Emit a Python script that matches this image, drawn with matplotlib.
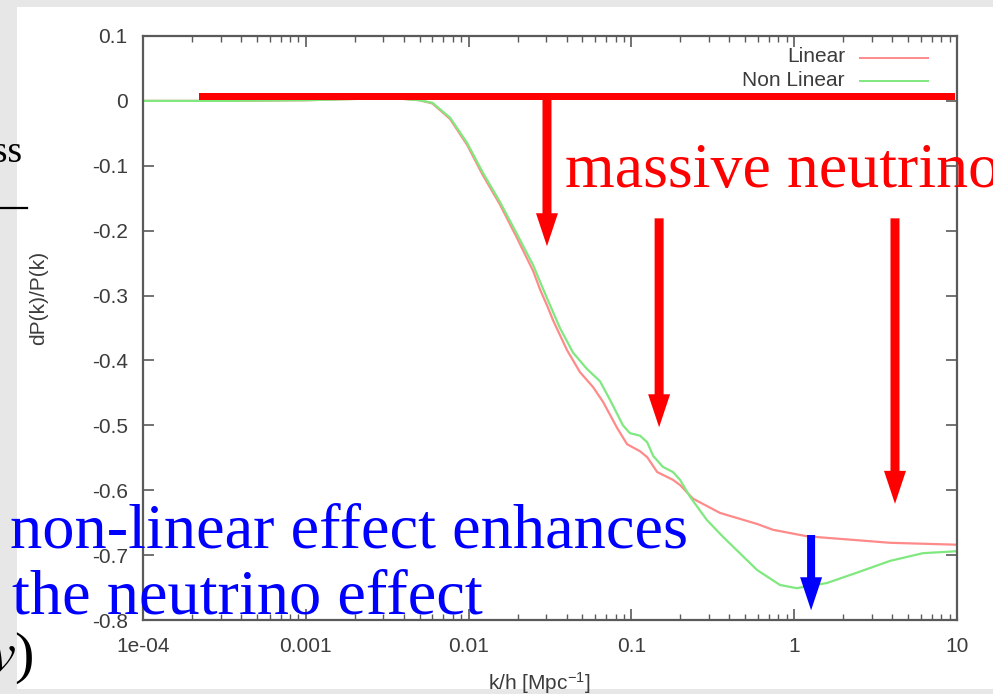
import matplotlib
matplotlib.use("Agg")
import matplotlib.pyplot as plt
from matplotlib.patches import Rectangle, Polygon
from matplotlib.lines import Line2D
from matplotlib.transforms import IdentityTransform
from matplotlib.ticker import LogLocator, NullFormatter, FixedLocator

plt.rcParams["font.family"] = ["Liberation Sans", "DejaVu Sans"]
plt.rcParams["mathtext.fontset"] = "stix"

W, H, DPI = 993, 694, 100

# Relative change of the matter power spectrum, dP(k)/P(k), versus k/h
k_linear = [1e-4, 3e-4, 1e-3, 2e-3, 3e-3, 4e-3, 5e-3, 6e-3, 7.7e-3, 9.8e-3,
            0.0122, 0.0156, 0.0198, 0.0249, 0.0275, 0.0303, 0.0330, 0.0402,
            0.0483, 0.0581, 0.0670, 0.0817, 0.0940, 0.113, 0.125, 0.144,
            0.180, 0.199, 0.239, 0.350, 0.592, 0.741, 1.20, 2.43, 3.87, 10.0]
dp_linear = [0.0, 0.0, 0.001, 0.003, 0.004, 0.003, 0.001, -0.004, -0.028, -0.068,
             -0.114, -0.160, -0.211, -0.262, -0.291, -0.315, -0.338, -0.384,
             -0.418, -0.441, -0.464, -0.504, -0.529, -0.540, -0.549, -0.572,
             -0.584, -0.592, -0.613, -0.635, -0.652, -0.661, -0.671, -0.677, -0.681, -0.684]

k_nonlinear = [1e-4, 3e-4, 1e-3, 2e-3, 3e-3, 4e-3, 5e-3, 6e-3, 7.7e-3, 9.8e-3,
               0.0122, 0.0156, 0.0198, 0.0249, 0.0275, 0.0303, 0.0364, 0.0438,
               0.0533, 0.0641, 0.0740, 0.0887, 0.0979, 0.113, 0.125, 0.136,
               0.156, 0.180, 0.199, 0.229, 0.291, 0.366, 0.592, 0.818, 1.035,
               1.59, 2.43, 3.87, 6.18, 10.0]
dp_nonlinear = [0.0, 0.0, 0.001, 0.003, 0.004, 0.003, 0.001, -0.003, -0.026, -0.065,
                -0.110, -0.156, -0.205, -0.253, -0.279, -0.304, -0.350, -0.388,
                -0.413, -0.432, -0.461, -0.500, -0.512, -0.516, -0.526, -0.547,
                -0.564, -0.572, -0.584, -0.610, -0.646, -0.672, -0.723, -0.746, -0.751,
                -0.743, -0.727, -0.709, -0.697, -0.694]

x_ticks = [1e-4, 1e-3, 1e-2, 1e-1, 1, 10]
x_tick_labels = ["1e-04", "0.001", "0.01", "0.1", "1", "10"]
y_ticks = [0.1, 0.0, -0.1, -0.2, -0.3, -0.4, -0.5, -0.6, -0.7, -0.8]
y_tick_labels = ["0.1", "0", "-0.1", "-0.2", "-0.3", "-0.4", "-0.5", "-0.6", "-0.7", "-0.8"]

# Overlay annotations (data units): the reference level bar and the arrows
bar_k = (2.2e-4, 9.7)
bar_level = 0.0068
red_arrows = [(0.0303, 0.0068, -0.224), (0.148, -0.181, -0.503), (4.16, -0.181, -0.621)]
blue_arrow = (1.27, -0.669, -0.785)

LINE_RED = "#ff8a8a"
LINE_GREEN = "#7fe87f"
AXIS_GRAY = "#5a5a5a"
TEXT_GRAY = "#3c3c3c"


def fx(px):
    return px / W


def fy(py):
    return 1 - py / H


fig = plt.figure(figsize=(W / DPI, H / DPI), dpi=DPI, facecolor="#e7e7e7")

# white slide panel holding the plot
fig.add_artist(Rectangle((fx(17), fy(689)), fx(993) - fx(17), fy(7) - fy(689),
                         transform=fig.transFigure, facecolor="white",
                         edgecolor="none", zorder=-5))

ax = fig.add_axes([fx(143), fy(620), fx(957) - fx(143), fy(36) - fy(620)])
ax.set_facecolor("white")
ax.set_xscale("log")
ax.set_xlim(1e-4, 10)
ax.set_ylim(-0.8, 0.1)

ax.plot(k_linear, dp_linear, color=LINE_RED, lw=1.6, solid_joinstyle="round")
ax.plot(k_nonlinear, dp_nonlinear, color=LINE_GREEN, lw=1.6, solid_joinstyle="round")

for s in ax.spines.values():
    s.set_color(AXIS_GRAY)
    s.set_linewidth(1.6)

ax.xaxis.set_major_locator(FixedLocator(x_ticks))
ax.set_xticklabels(x_tick_labels)
ax.xaxis.set_minor_locator(LogLocator(base=10, subs=range(2, 10), numticks=20))
ax.xaxis.set_minor_formatter(NullFormatter())
ax.set_yticks(y_ticks)
ax.set_yticklabels(y_tick_labels)
ax.tick_params(which="both", direction="in", top=True, right=True,
               color=AXIS_GRAY, labelcolor=TEXT_GRAY, labelsize=15)
ax.tick_params(which="major", length=8, width=1.2)
ax.tick_params(which="minor", length=4, width=1.0)
ax.tick_params(axis="y", pad=11)
ax.tick_params(axis="x", pad=12)

fig.text(fx(39), fy(298), "dP(k)/P(k)", rotation=90, ha="center", va="center",
         fontsize=15, color=TEXT_GRAY)
fig.text(fx(540), fy(683), r"k/h [Mpc$^{\mathregular{-1}}$]", ha="center", va="center",
         fontsize=15, color=TEXT_GRAY)

# legend, right aligned text with sample lines
for label, color, ypx in [("Linear", LINE_RED, 57), ("Non Linear", LINE_GREEN, 80)]:
    fig.text(fx(845), fy(ypx), label, ha="right", va="center", fontsize=15, color=TEXT_GRAY)
    fig.add_artist(Line2D([fx(860), fx(928)], [fy(ypx + 1)] * 2, color=color, lw=1.4,
                          transform=fig.transFigure))

# annotation overlay
to_px = ax.transData.transform
x0, yb = to_px((bar_k[0], bar_level))
x1, _ = to_px((bar_k[1], bar_level))
fig.add_artist(Rectangle((x0, yb - 3.8), x1 - x0, 7.6, transform=IdentityTransform(),
                         facecolor="#ff0000", edgecolor="none", zorder=6))


def arrow(k, y_start, y_tip, color, shaft_w=9.0, head_w=22.0, head_len=33.0):
    xs, ys = to_px((k, y_start))
    _, yt = to_px((k, y_tip))
    yh = yt + head_len
    pts = [(xs - shaft_w / 2, ys), (xs + shaft_w / 2, ys), (xs + shaft_w / 2, yh),
           (xs + head_w / 2, yh), (xs, yt), (xs - head_w / 2, yh), (xs - shaft_w / 2, yh)]
    fig.add_artist(Polygon(pts, closed=True, transform=IdentityTransform(),
                           facecolor=color, edgecolor="none", zorder=6))


for k, ys, yt in red_arrows:
    arrow(k, ys, yt, "#ff0000")
arrow(*blue_arrow, "#0000ff", shaft_w=8.0)

serif = ["Liberation Serif", "DejaVu Serif"]
fig.text(fx(565), fy(187), "massive neutrino", color="#ff0000", fontsize=46,
         family=serif, ha="left", va="baseline", zorder=7)
fig.text(fx(10), fy(548), "non-linear effect enhances", color="#0000ff", fontsize=46.3,
         family=serif, ha="left", va="baseline", zorder=7)
fig.text(fx(12), fy(613), "the neutrino effect", color="#0000ff", fontsize=46.3,
         family=serif, ha="left", va="baseline", zorder=7)

# slide content peeking out at the left edge
fig.text(fx(22), fy(162), "mass", color="black", fontsize=27, family=serif,
         ha="right", va="baseline", zorder=7)
fig.add_artist(Line2D([0, fx(27)], [fy(208)] * 2, color="black", lw=1.6,
                      transform=fig.transFigure, zorder=7))
fig.text(fx(34), fy(672), r"$v$)", color="black", fontsize=42, family=serif,
         ha="right", va="baseline", zorder=7)

fig.savefig("out.png", dpi=DPI, facecolor=fig.get_facecolor())
